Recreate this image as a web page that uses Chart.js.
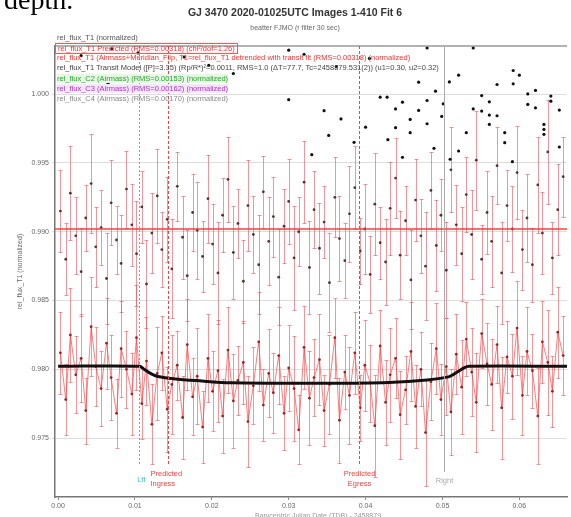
<!DOCTYPE html>
<html>
<head>
<meta charset="utf-8">
<script src="https://cdn.jsdelivr.net/npm/chart.js@4"></script>
<style>
  body { margin: 0; background: #fff; }
  #wrap { position: relative; width: 571px; height: 517px; overflow: hidden; font-family: "Liberation Sans", Arial, sans-serif; }
  #depth { position: absolute; left: 4px; top: -16px; font-family: "Liberation Serif", "Times New Roman", serif; font-size: 28px; color: #000; }
  .title { position: absolute; left: 0; width: 590px; text-align: center; color: #333; }
  .lg { position: absolute; left: 57px; font-size: 7.5px; white-space: nowrap; line-height: 9px; }
</style>
</head>
<body>
<div id="wrap">
  <canvas id="myChart" width="571" height="517"></canvas>
  <div id="depth">depth.</div>
  <div class="title" style="top:6px;font-size:10.5px;font-weight:bold;">GJ 3470 2020-01025UTC Images 1-410 Fit 6</div>
  <div class="title" style="top:24px;font-size:7px;color:#666;">beatter FJMO (r filter 30 sec)</div>
  <div class="lg" style="top:33px;color:#555;">rel_flux_T1 (normalized)</div>
  <div class="lg" style="top:43px;color:#e33;border:1px solid #f55;padding:0 2px;left:55px;">rel_flux_T1 Predicted (RMS=0.00318) (chi²/dof=1.26)</div>
  <div class="lg" style="top:53px;color:#e33;">rel_flux_T1 (Airmass+Meridian_Flip, T1=rel_flux_T1 detrended with transit fit (RMS=0.00318) (normalized)</div>
  <div class="lg" style="top:63px;color:#444;">rel_flux_T1 Transit Model ([P]=3.35) (Rp/R*)²=0.0011, RMS=1.0 (ΔT=77.7, Tc=2458879.531(2)) (u1=0.30, u2=0.32)</div>
  <div class="lg" style="top:74px;color:#2a2;background:#e6f7e6;">rel_flux_C2 (Airmass) (RMS=0.00153) (normalized)</div>
  <div class="lg" style="top:84px;color:#a3c;background:#f5e6fa;">rel_flux_C3 (Airmass) (RMS=0.00162) (normalized)</div>
  <div class="lg" style="top:94px;color:#888;">rel_flux_C4 (Airmass) (RMS=0.00170) (normalized)</div>
</div>
<script>
// frame times (days) shared by the two target series
var times = [0.0003, 0.0010, 0.0016, 0.0023, 0.0030, 0.0036, 0.0043, 0.0049, 0.0056, 0.0063,
  0.0069, 0.0076, 0.0082, 0.0089, 0.0096, 0.0102, 0.0109, 0.0115, 0.0122, 0.0129,
  0.0135, 0.0142, 0.0148, 0.0155, 0.0162, 0.0168, 0.0175, 0.0181, 0.0188, 0.0195,
  0.0201, 0.0208, 0.0214, 0.0221, 0.0228, 0.0234, 0.0241, 0.0247, 0.0254, 0.0261,
  0.0267, 0.0274, 0.0280, 0.0287, 0.0294, 0.0300, 0.0307, 0.0313, 0.0320, 0.0327,
  0.0333, 0.0340, 0.0346, 0.0353, 0.0360, 0.0366, 0.0373, 0.0379, 0.0386, 0.0393,
  0.0399, 0.0406, 0.0412, 0.0419, 0.0426, 0.0432, 0.0439, 0.0445, 0.0452, 0.0459,
  0.0465, 0.0472, 0.0478, 0.0485, 0.0492, 0.0498, 0.0505, 0.0511, 0.0518, 0.0525,
  0.0531, 0.0538, 0.0544, 0.0551, 0.0558, 0.0564, 0.0571, 0.0577, 0.0584, 0.0591,
  0.0597, 0.0604, 0.0610, 0.0617, 0.0624, 0.0630, 0.0637, 0.0643, 0.0650, 0.0657];

// detrended target flux (lower red curve)
var fluxT1 = [0.9812, 0.9778, 0.9825, 0.9796, 0.9808, 0.9770, 0.9831, 0.9802, 0.9786, 0.9819,
  0.9794, 0.9768, 0.9815, 0.9800, 0.9782, 0.9823, 0.9775, 0.9806, 0.9760, 0.9797,
  0.9812, 0.9771, 0.9789, 0.9803, 0.9765, 0.9818, 0.9780, 0.9795, 0.9758, 0.9808,
  0.9784, 0.9799, 0.9766, 0.9814, 0.9777, 0.9792, 0.9805, 0.9762, 0.9788, 0.9820,
  0.9774, 0.9797, 0.9783, 0.9810, 0.9768, 0.9801, 0.9786, 0.9756, 0.9816, 0.9779,
  0.9794, 0.9807, 0.9770, 0.9789, 0.9823, 0.9763, 0.9798, 0.9781, 0.9812, 0.9772,
  0.9803, 0.9790, 0.9759, 0.9817, 0.9776, 0.9796, 0.9808, 0.9767, 0.9785, 0.9813,
  0.9773, 0.9800, 0.9754, 0.9791, 0.9815, 0.9778, 0.9802, 0.9769, 0.9811, 0.9787,
  0.9822, 0.9798, 0.9776, 0.9826, 0.9804, 0.9789, 0.9818, 0.9772, 0.9809, 0.9795,
  0.9830, 0.9781, 0.9813, 0.9799, 0.9766, 0.9820, 0.9805, 0.9784, 0.9827, 0.9810];

// predicted / raw target flux (upper band)
var fluxPred = [0.9915, 0.9880, 0.9928, 0.9897, 0.9871, 0.9910, 0.9935, 0.9889, 0.9903, 0.9866,
  0.9921, 0.9894, 0.9877, 0.9931, 0.9905, 0.9884, 0.9918, 0.9862, 0.9899, 0.9926,
  0.9887, 0.9909, 0.9873, 0.9933, 0.9896, 0.9868, 0.9914, 0.9901, 0.9882, 0.9924,
  0.9891, 0.9870, 0.9912, 0.9938, 0.9885, 0.9906, 0.9864, 0.9919, 0.9898, 0.9876,
  0.9929, 0.9893, 0.9911, 0.9867, 0.9904, 0.9922, 0.9881, 0.9900, 0.9936, 0.9874,
  0.9916, 0.9888, 0.9907, 0.9863, 0.9925, 0.9895, 0.9879, 0.9913, 0.9932, 0.9886,
  0.9902, 0.9869, 0.9920, 0.9892, 0.9878, 0.9917, 0.9939, 0.9883, 0.9908, 0.9865,
  0.9923, 0.9897, 0.9875, 0.9930, 0.9890, 0.9912, 0.9872, 0.9945, 0.9905, 0.9884,
  0.9927, 0.9898, 0.9952, 0.9880, 0.9914, 0.9893, 0.9948, 0.9870, 0.9919, 0.9902,
  0.9943, 0.9887, 0.9910, 0.9876, 0.9934, 0.9899, 0.9958, 0.9881, 0.9916, 0.9940];

var errT1 = [0.0030, 0.0026, 0.0034, 0.0028, 0.0032, 0.0024, 0.0036, 0.0029, 0.0027, 0.0033,
  0.0031, 0.0025, 0.0035, 0.0028, 0.0030, 0.0038, 0.0026, 0.0032, 0.0029, 0.0034,
  0.0027, 0.0031, 0.0036, 0.0025, 0.0030, 0.0033, 0.0028, 0.0035, 0.0026, 0.0032,
  0.0029, 0.0037, 0.0027, 0.0031, 0.0034, 0.0025, 0.0030, 0.0033, 0.0028, 0.0036,
  0.0026, 0.0032, 0.0029, 0.0035, 0.0027, 0.0031, 0.0038, 0.0025, 0.0030, 0.0034,
  0.0028, 0.0033, 0.0026, 0.0036, 0.0029, 0.0031, 0.0027, 0.0035, 0.0030, 0.0024,
  0.0033, 0.0028, 0.0037, 0.0026, 0.0031, 0.0034, 0.0029, 0.0032, 0.0025, 0.0036,
  0.0030, 0.0027, 0.0039, 0.0028, 0.0033, 0.0026, 0.0035, 0.0031, 0.0029, 0.0034,
  0.0027, 0.0032, 0.0036, 0.0025, 0.0030, 0.0033, 0.0028, 0.0037, 0.0026, 0.0031,
  0.0034, 0.0029, 0.0032, 0.0027, 0.0035, 0.0030, 0.0038, 0.0026, 0.0033, 0.0029];

// transit model
var modelTimes = [0.0000, 0.0106, 0.0112, 0.0118, 0.0124, 0.0130, 0.0150, 0.0180, 0.0226,
  0.0350, 0.0430, 0.0480, 0.0508, 0.0515, 0.0522, 0.0528, 0.0534, 0.0662];
var modelFlux = [0.98022, 0.98022, 0.98000, 0.97978, 0.97960, 0.97948, 0.97932, 0.97918, 0.97902,
  0.97899, 0.97905, 0.97922, 0.97945, 0.97965, 0.97990, 0.98010, 0.98022, 0.98022];

var predLevel = 0.9902;

// comparison star points near the top
var compTimes = [0.0419, 0.0428, 0.0448, 0.0439, 0.0469, 0.0491, 0.0480, 0.0501, 0.0499, 0.0458,
  0.0439, 0.0458, 0.0480, 0.0429, 0.0448, 0.0489, 0.0521, 0.0510, 0.0531, 0.0540,
  0.0551, 0.0551, 0.0561, 0.0561, 0.0571, 0.0561, 0.0581, 0.0581, 0.0571, 0.0592,
  0.0611, 0.0621, 0.0611, 0.0621, 0.0641, 0.0641, 0.0652, 0.0632, 0.0632, 0.0632,
  0.0652, 0.0591, 0.0509, 0.0521, 0.0592, 0.0600, 0.0469, 0.0480, 0.0540,
  0.0030, 0.0070, 0.0104, 0.0164, 0.0196, 0.0228, 0.0300, 0.0320, 0.0362, 0.0405,
  0.0346, 0.0352, 0.0368, 0.0385, 0.0400, 0.0330, 0.0300, 0.0130, 0.0065];
var compFlux = [0.99978, 0.99978, 0.99942, 0.99893, 0.99882, 1.00022, 0.99954, 0.99930, 0.99838, 0.99816,
  0.99756, 0.99720, 0.99785, 0.99669, 0.99541, 0.99606, 0.99587, 0.99527, 0.99720, 0.99893,
  0.99990, 0.99877, 0.99944, 0.99848, 0.99843, 0.99780, 0.99720, 0.99647, 1.00070, 1.00075,
  1.00002, 1.00027, 0.99925, 0.99901, 0.99986, 0.99949, 0.99884, 0.99780, 0.99744, 0.99708,
  0.99616, 0.99509, 1.00089, 1.00138, 1.00172, 1.00138, 1.00087, 1.00336, 1.00336,
  1.00280, 1.00330, 1.00300, 1.00270, 1.00210, 1.00150, 1.00320, 1.00290, 1.00200, 1.00260,
  0.99880, 0.99700, 0.99820, 0.99650, 0.99760, 0.99560, 0.99960, 1.00020, 1.00080];

var xTickStep = 0.01;
var yTickStep = 0.005;

// vertical markers
var markerTimes = [0.0105, 0.0143, 0.0391, 0.0502];
var markerNames = [["Lft"], ["Predicted", "Ingress"], ["Predicted", "Egress"], ["Right"]];

function pts(xs, ys) {
  var out = [];
  for (var i = 0; i < xs.length; i++) out.push({ x: xs[i], y: ys[i] });
  return out;
}

var errorBars = {
  id: 'errorBars',
  beforeDatasetsDraw: function (chart) {
    var ctx = chart.ctx, xs = chart.scales.x, ys = chart.scales.y, a = chart.chartArea;
    ctx.save();
    ctx.beginPath();
    ctx.rect(a.left, a.top, a.right - a.left, a.bottom - a.top);
    ctx.clip();
    chart.data.datasets.forEach(function (ds) {
      if (!ds.errors) return;
      ctx.strokeStyle = ds.errColor;
      ctx.lineWidth = 1;
      ds.data.forEach(function (p, i) {
        var px = Math.round(xs.getPixelForValue(p.x)) + 0.5;
        var y1 = Math.round(ys.getPixelForValue(p.y - ds.errors[i])) + 0.5;
        var y2 = Math.round(ys.getPixelForValue(p.y + ds.errors[i])) + 0.5;
        ctx.beginPath();
        ctx.moveTo(px, y1); ctx.lineTo(px, y2);
        ctx.moveTo(px - 2, y1); ctx.lineTo(px + 2, y1);
        ctx.moveTo(px - 2, y2); ctx.lineTo(px + 2, y2);
        ctx.stroke();
      });
    });
    ctx.restore();
  }
};

var markers = {
  id: 'markers',
  afterDatasetsDraw: function (chart) {
    var ctx = chart.ctx, xs = chart.scales.x, a = chart.chartArea;
    var cols = ['#b88', '#e44', '#e44', '#aaa'];
    var dash = [[2, 2], [3, 2], [3, 2], []];
    var lab = ['#4bb', '#e44', '#e44', '#aaa'];
    ctx.save();
    // top frame line
    ctx.strokeStyle = '#999';
    ctx.lineWidth = 1.5;
    ctx.beginPath();
    ctx.moveTo(a.left, a.top); ctx.lineTo(a.right, a.top);
    ctx.stroke();
    markerTimes.forEach(function (t, i) {
      var px = Math.round(xs.getPixelForValue(t)) + 0.5;
      ctx.strokeStyle = cols[i];
      ctx.setLineDash(dash[i]);
      ctx.lineWidth = 1;
      ctx.beginPath();
      ctx.moveTo(px, a.top);
      ctx.lineTo(px, i == 3 ? 472 : 466);
      ctx.stroke();
      ctx.fillStyle = lab[i];
      ctx.font = '7.5px "Liberation Sans", Arial, sans-serif';
      ctx.textAlign = 'center';
      var lines = markerNames[i];
      var y0 = lines.length == 1 ? 483 : 476;
      if (i == 0) { ctx.textAlign = 'right'; px = px + 6; y0 = 482; }
      if (i == 1) { ctx.textAlign = 'left'; px = px - 18; }
      lines.forEach(function (s, k) { ctx.fillText(s, px, y0 + k * 10); });
    });
    ctx.setLineDash([]);
    ctx.fillStyle = '#999';
    ctx.font = '7px "Liberation Sans", Arial, sans-serif';
    ctx.textAlign = 'center';
    ctx.fillText('Barycentric Julian Date (TDB) - 2458879', 318, 518);
    ctx.restore();
  }
};

var ctx = document.getElementById('myChart').getContext('2d');
var myChart = new Chart(ctx, {
  type: 'scatter',
  data: {
    datasets: [{
      label: 'model',
      type: 'line',
      data: pts(modelTimes, modelFlux),
      borderColor: '#111',
      borderWidth: 3,
      pointRadius: 0,
      tension: 0.3
    }, {
      label: 'predicted level',
      type: 'line',
      data: [{ x: -0.001, y: predLevel }, { x: 0.07, y: predLevel }],
      borderColor: 'rgba(255,60,60,0.75)',
      borderWidth: 2,
      pointRadius: 0
    }, {
      label: 'rel_flux_T1 predicted',
      data: pts(times, fluxPred),
      errors: errT1,
      errColor: 'rgba(235,80,95,0.62)',
      pointRadius: 1.4,
      pointBackgroundColor: '#533',
      pointBorderWidth: 0
    }, {
      label: 'rel_flux_T1',
      type: 'line',
      data: pts(times, fluxT1),
      errors: errT1,
      errColor: 'rgba(245,80,85,0.62)',
      borderColor: 'rgba(255,60,60,0.75)',
      borderWidth: 0.9,
      pointRadius: 1.4,
      pointBackgroundColor: '#922',
      pointBorderWidth: 0
    }, {
      label: 'comparisons',
      data: pts(compTimes, compFlux),
      pointRadius: 1.6,
      pointBackgroundColor: '#111',
      pointBorderWidth: 0
    }]
  },
  options: {
    responsive: false,
    animation: false,
    layout: { padding: { top: 46, right: 0, left: 16, bottom: 0 } },
    plugins: { legend: { display: false }, tooltip: { enabled: false } },
    scales: {
      x: {
        type: 'linear',
        min: -0.0004,
        max: 0.0662,
        afterFit: function (s) { s.height = 20; },
        ticks: {
          stepSize: xTickStep,
          includeBounds: false,
          color: '#666',
          font: { size: 7, family: 'Liberation Sans' },
          padding: 2,
          callback: function (v) { return v.toFixed(2); }
        },
        grid: { drawOnChartArea: false, tickLength: 3, color: '#888' },
        border: { color: '#777', width: 1.5 }
      },
      y: {
        min: 0.97072,
        max: 1.0035,
        afterFit: function (s) { s.width = 39; },
        ticks: {
          stepSize: yTickStep,
          includeBounds: false,
          color: '#666',
          font: { size: 7, family: 'Liberation Sans' },
          padding: 3,
          callback: function (v) { return v.toFixed(3); }
        },
        grid: { color: '#ddd', tickLength: 3 },
        border: { color: '#777', width: 1.5 },
        title: {
          display: true,
          text: 'rel_flux_T1 (normalized)',
          color: '#666',
          font: { size: 7, family: 'Liberation Sans' },
          padding: 0
        }
      }
    }
  },
  plugins: [errorBars, markers]
});
</script>
</body>
</html>
